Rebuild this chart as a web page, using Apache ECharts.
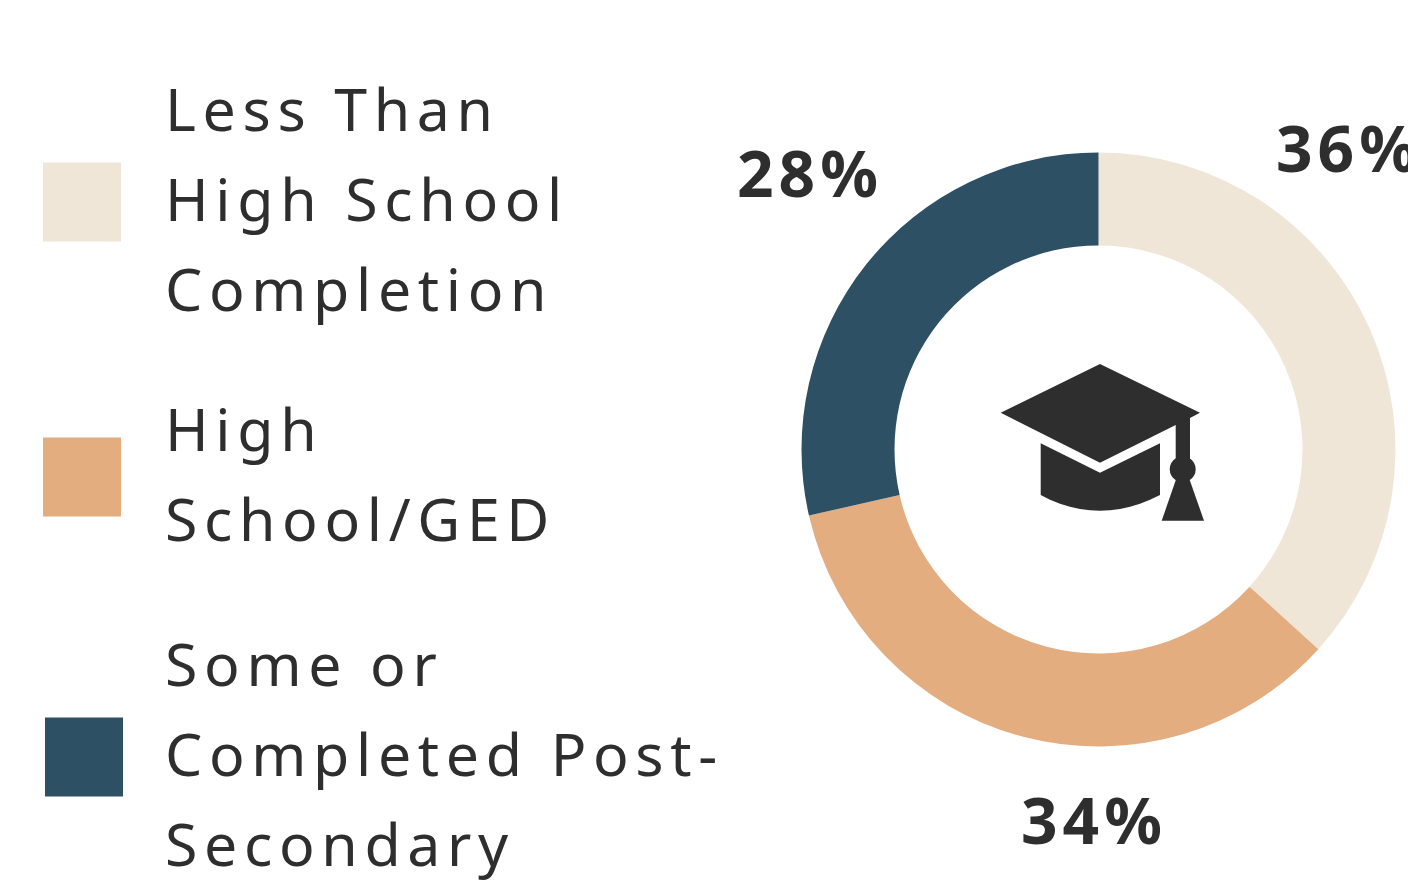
<!DOCTYPE html>
<html>
<head>
<meta charset="utf-8">
<title>Education</title>
<style>
html, body { margin: 0; padding: 0; background: #fff; }
#main { width: 1408px; height: 885px; }
/* echarts has no letter spacing option, the svg renderer lets css do it */
#main text { letter-spacing: 6.65px; }
#main text[style*="bold"] { letter-spacing: 5px; }
</style>
</head>
<body>
<div id="main"></div>
<script src="https://cdn.jsdelivr.net/npm/echarts@6/dist/echarts.min.js"></script>
<script>
var categories = ['Less Than\nHigh School\nCompletion', 'High\nSchool/GED', 'Some or\nCompleted Post-\nSecondary'];
var values = [36, 34, 28];
var colors = ['#F0E6D8', '#E4AD80', '#2D5064'];
var labelSpots = [[1276, 147], [1021, 819], [737, 172]];
var legendSpots = [[43, 63], [43, 383], [45, 618]];
var legendGaps = [39, 39, 37];

var textColor = '#2E2E2E';
// swatch with an empty strip above it, so it sits a little below the text's middle
var swatchIcon = 'path://M0 0M0 8H78V87H0Z';
// the mortarboard in the middle of the ring
var capBoard = [[1100, 364], [1200, 412.7], [1190, 418], [1190, 462], [1175.7, 462], [1175.7, 425], [1100, 462.7], [1000.7, 412.7]];
var capBase = [[1040.7, 443.3], [1100, 472.7], [1160, 443.3], [1160, 495], [1150, 499.8], [1140, 503.7], [1130, 506.8], [1120, 509], [1110, 510.3], [1100, 510.7], [1090, 510.3], [1080, 509], [1070, 506.8], [1060, 503.7], [1050, 499.8], [1040.7, 495]];
var capTassel = [[1176.5, 478], [1189, 478], [1204, 520.7], [1161.7, 520.7]];

var legends = [];
for (var i = 0; i < categories.length; i++) {
	legends.push({
		data: [categories[i]],
		orient: 'vertical',
		left: legendSpots[i][0],
		top: legendSpots[i][1],
		padding: 0,
		icon: swatchIcon,
		itemWidth: 78,
		itemHeight: 87,
		itemGap: 0,
		selectedMode: false,
		textStyle: {
			color: textColor,
			fontFamily: '"Noto Sans"',
			fontSize: 59,
			lineHeight: 90,
			padding: [0, 0, 0, legendGaps[i]]
		}
	});
}

var myChart = echarts.init(document.getElementById('main'), null, { renderer: 'svg' });
myChart.setOption({
	backgroundColor: '#fff',
	animation: false,
	color: colors,
	legend: legends,
	graphic: [
		{ type: 'polygon', shape: { points: capBoard }, style: { fill: textColor }, silent: true },
		{ type: 'polygon', shape: { points: capBase }, style: { fill: textColor }, silent: true },
		{ type: 'polygon', shape: { points: capTassel }, style: { fill: textColor }, silent: true },
		{ type: 'circle', shape: { cx: 1182.7, cy: 469.3, r: 13 }, style: { fill: textColor }, silent: true }
	],
	series: [{
		type: 'pie',
		center: [1098.5, 449.5],
		radius: [204, 297],
		startAngle: 90,
		clockwise: true,
		silent: true,
		avoidLabelOverlap: false,
		data: categories.map(function(name, i) {
			return { name: name, value: values[i] };
		}),
		label: {
			show: true,
			position: 'outside',
			formatter: '{c}%',
			color: textColor,
			fontFamily: '"Noto Sans"',
			fontWeight: 'bold',
			fontSize: 64
		},
		labelLine: { show: false },
		labelLayout: function(params) {
			return {
				x: labelSpots[params.dataIndex][0],
				y: labelSpots[params.dataIndex][1],
				align: 'left',
				verticalAlign: 'middle'
			};
		}
	}]
});
window.addEventListener("resize", function() {
	myChart.resize();
});
</script>
</body>
</html>
